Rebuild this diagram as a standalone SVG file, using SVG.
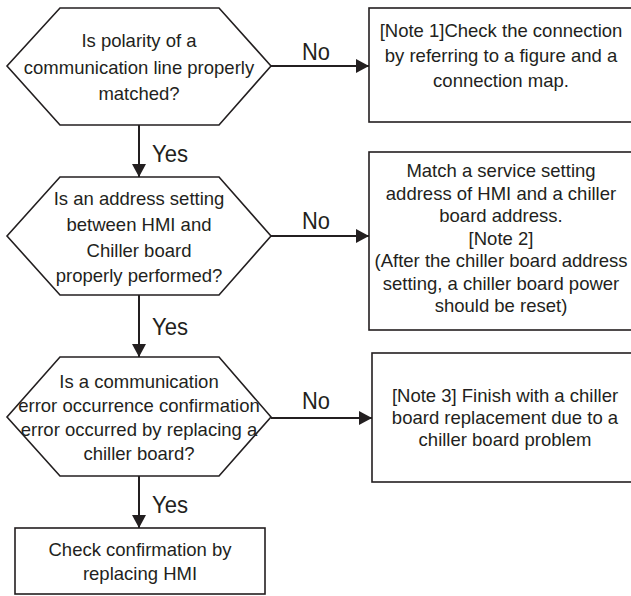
<svg xmlns="http://www.w3.org/2000/svg" width="631" height="596" viewBox="0 0 631 596">
<style>
.shape{fill:#fff;stroke:#231f20;stroke-width:1.6}
.t{font-family:"Liberation Sans",Arial,Helvetica,sans-serif;font-size:18.5px;fill:#231f20;text-anchor:middle}
.lbl{font-family:"Liberation Sans",Arial,Helvetica,sans-serif;font-size:23px;fill:#231f20}
.conn{stroke:#231f20;stroke-width:2;fill:none}
</style>
<defs>
<marker id="arr" markerWidth="14" markerHeight="14" refX="13" refY="7" orient="auto" markerUnits="userSpaceOnUse">
<path d="M0,0 L13,7 L0,14 Z" fill="#231f20"/>
</marker>
</defs>
<rect width="631" height="596" fill="#fff"/>
<g id="q1">
<polygon class="shape" points="60,8 219,8 271,66 219,125 60,125 7,66"/>
<text class="t" x="139" y="47">Is polarity of a</text>
<text class="t" x="139" y="73.5">communication line properly</text>
<text class="t" x="139" y="100">matched?</text>
</g>
<g id="n1">
<rect class="shape" x="369" y="8" width="280" height="114"/>
<text class="t" x="501" y="37">[Note 1]Check the connection</text>
<text class="t" x="501" y="62">by referring to a figure and a</text>
<text class="t" x="501" y="87">connection map.</text>
</g>
<g id="q2">
<polygon class="shape" points="60,177 219,177 271,236 219,295 60,295 7,236"/>
<text class="t" x="139" y="205">Is an address setting</text>
<text class="t" x="139" y="231">between HMI and</text>
<text class="t" x="139" y="257">Chiller board</text>
<text class="t" x="139" y="282">properly performed?</text>
</g>
<g id="n2">
<rect class="shape" x="369" y="152" width="280" height="178"/>
<text class="t" x="501" y="177">Match a service setting</text>
<text class="t" x="501" y="200">address of HMI and a chiller</text>
<text class="t" x="501" y="222">board address.</text>
<text class="t" x="501" y="245">[Note 2]</text>
<text class="t" x="501" y="267">(After the chiller board address</text>
<text class="t" x="501" y="290">setting, a chiller board power</text>
<text class="t" x="501" y="312">should be reset)</text>
</g>
<g id="q3">
<polygon class="shape" points="60,357 219,357 271,417 219,476 60,476 7,417"/>
<text class="t" x="139" y="388">Is a communication</text>
<text class="t" x="139" y="412">error occurrence confirmation</text>
<text class="t" x="139" y="436">error occurred by replacing a</text>
<text class="t" x="139" y="460">chiller board?</text>
</g>
<g id="n3">
<rect class="shape" x="372" y="353" width="280" height="129"/>
<text class="t" x="505" y="402">[Note 3] Finish with a chiller</text>
<text class="t" x="505" y="424">board replacement due to a</text>
<text class="t" x="505" y="446">chiller board problem</text>
</g>
<g id="end">
<rect class="shape" x="15" y="528" width="250" height="66"/>
<text class="t" x="140" y="556">Check confirmation by</text>
<text class="t" x="140" y="580">replacing HMI</text>
</g>
<g id="connectors">
<line class="conn" x1="139" y1="125" x2="139" y2="177" marker-end="url(#arr)"/>
<line class="conn" x1="139" y1="295" x2="139" y2="357" marker-end="url(#arr)"/>
<line class="conn" x1="139" y1="476" x2="139" y2="528" marker-end="url(#arr)"/>
<line class="conn" x1="271" y1="66" x2="369" y2="66" marker-end="url(#arr)"/>
<line class="conn" x1="271" y1="236" x2="369" y2="236" marker-end="url(#arr)"/>
<line class="conn" x1="271" y1="418" x2="372" y2="418" marker-end="url(#arr)"/>
<text class="lbl" x="152" y="162" textLength="36" lengthAdjust="spacingAndGlyphs">Yes</text>
<text class="lbl" x="152" y="335" textLength="36" lengthAdjust="spacingAndGlyphs">Yes</text>
<text class="lbl" x="152" y="513" textLength="36" lengthAdjust="spacingAndGlyphs">Yes</text>
<text class="lbl" x="302" y="60" textLength="28" lengthAdjust="spacingAndGlyphs">No</text>
<text class="lbl" x="302" y="229" textLength="28" lengthAdjust="spacingAndGlyphs">No</text>
<text class="lbl" x="302" y="409" textLength="28" lengthAdjust="spacingAndGlyphs">No</text>
</g>
</svg>
